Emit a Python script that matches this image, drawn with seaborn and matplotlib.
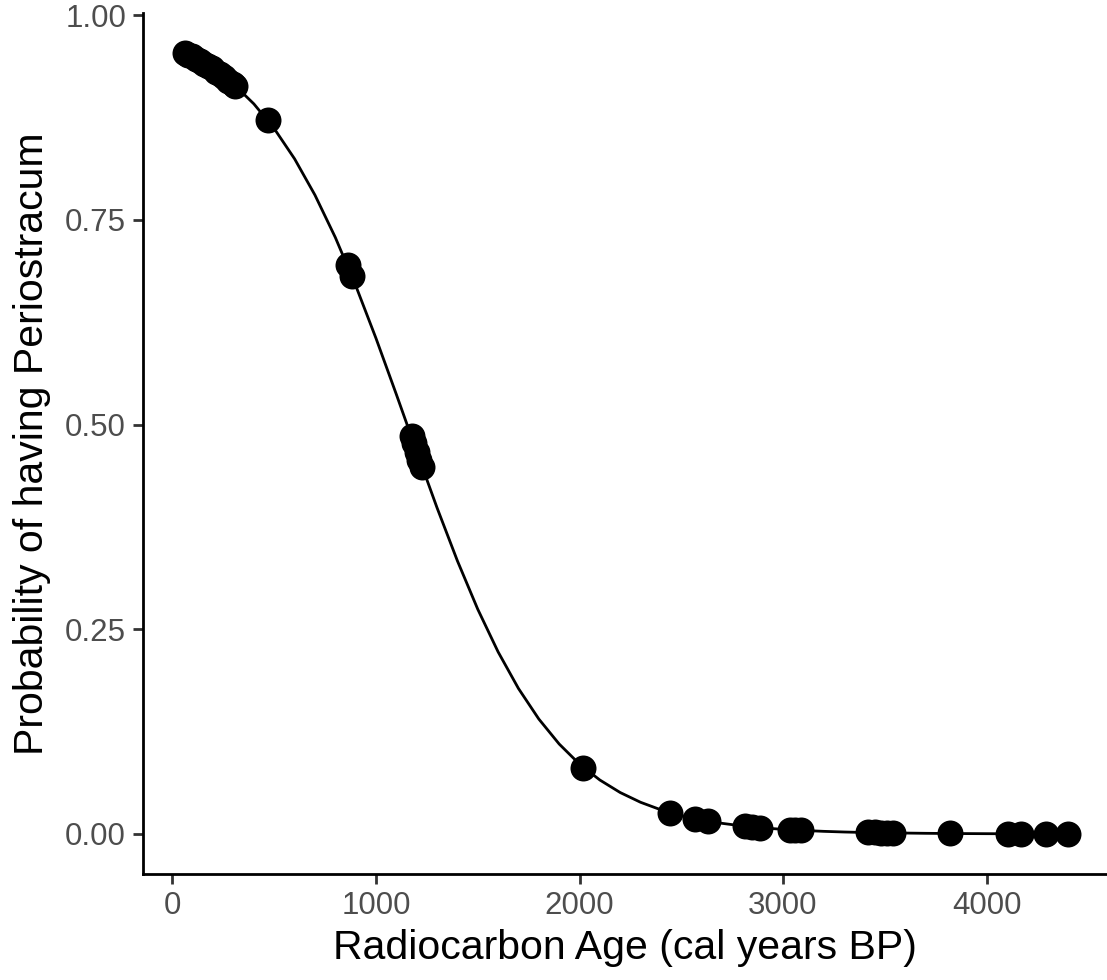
import matplotlib
matplotlib.use("Agg")
import matplotlib.pyplot as plt
import seaborn as sns
import pandas as pd
from matplotlib.ticker import FixedLocator, FormatStrFormatter

# ---- data ----
point_age = [63, 78, 95, 115, 135, 155, 175, 195, 215, 235, 255, 275, 295, 307,
             469,
             862, 880,
             1175, 1188, 1200, 1212, 1224,
             2017,
             2445, 2568, 2633,
             2813, 2850, 2887,
             3033, 3060, 3090,
             3420, 3450, 3480, 3510, 3541,
             3821,
             4104, 4170, 4293, 4398]
point_prob = [0.954, 0.952, 0.950, 0.947, 0.944, 0.941, 0.938, 0.935, 0.931, 0.928, 0.924, 0.920, 0.916, 0.913,
              0.872,
              0.695, 0.681,
              0.486, 0.477, 0.467, 0.457, 0.448,
              0.080,
              0.025, 0.018, 0.016,
              0.0095, 0.0085, 0.0078,
              0.0053, 0.0048, 0.0044,
              0.0020, 0.0018, 0.0017, 0.0015, 0.0014,
              0.0006,
              0.0003, 0.0002, 0.0002, 0.0001]

curve_age = [63, 100, 200, 300, 400, 500, 600, 700, 800, 900, 1000, 1100, 1200, 1300, 1400,
             1500, 1600, 1700, 1800, 1900, 2000, 2100, 2200, 2300, 2400, 2500, 2600, 2700,
             2800, 2900, 3000, 3100, 3200, 3300, 3400, 3500, 3600, 3700, 3800, 3900, 4000,
             4100, 4200, 4300, 4398]
curve_prob = [0.9548, 0.9502, 0.9351, 0.9159, 0.8917, 0.8615, 0.8246, 0.7804, 0.7287, 0.6700,
              0.6054, 0.5369, 0.4670, 0.3984, 0.3336, 0.2745, 0.2224, 0.1777, 0.1404, 0.1099,
              0.0853, 0.0659, 0.0506, 0.0387, 0.0295, 0.0225, 0.0171, 0.0130, 0.0098, 0.0075,
              0.0056, 0.0043, 0.0032, 0.0024, 0.0018, 0.0014, 0.0011, 0.0008, 0.0006, 0.00046,
              0.00034, 0.00026, 0.0002, 0.00015, 0.00011]

x_ticks = [0, 1000, 2000, 3000, 4000]
y_ticks = [0.00, 0.25, 0.50, 0.75, 1.00]

x_title = "Radiocarbon Age (cal years BP)"
y_title = "Probability of having Periostracum"

points = pd.DataFrame({"age": point_age, "prob": point_prob})
curve = pd.DataFrame({"age": curve_age, "prob": curve_prob})

# ---- style ----
sns.set_style("ticks")
plt.rcParams["font.family"] = ["Liberation Sans", "DejaVu Sans"]

fig = plt.figure(figsize=(11.07, 9.80), dpi=100)
ax = fig.add_axes([142.7 / 1107, 106 / 980, (1107 - 142.7) / 1107, (874 - 12.8) / 980])

sns.lineplot(data=curve, x="age", y="prob", ax=ax, color="black", linewidth=2.0,
             estimator=None, sort=False, zorder=2)
sns.scatterplot(data=points, x="age", y="prob", ax=ax, color="black", s=350,
                linewidth=0, zorder=3)

ax.set_xlim(-146.4, 4592)
ax.set_ylim(-0.0489, 1.003)
ax.xaxis.set_major_locator(FixedLocator(x_ticks))
ax.yaxis.set_major_locator(FixedLocator(y_ticks))
ax.yaxis.set_major_formatter(FormatStrFormatter("%.2f"))

for side in ["top", "right"]:
    ax.spines[side].set_visible(False)
for side in ["left", "bottom"]:
    ax.spines[side].set_color("black")
    ax.spines[side].set_linewidth(2.0)

ax.tick_params(axis="both", length=7, width=2.0, color="#333333",
               labelsize=22.5, labelcolor="#4D4D4D", pad=5)

ax.set_xlabel(x_title, fontsize=29.5, color="black", labelpad=6)
ax.set_ylabel(y_title, fontsize=29.5, color="black", labelpad=10)

fig.savefig("out.png", dpi=100, facecolor="white")
